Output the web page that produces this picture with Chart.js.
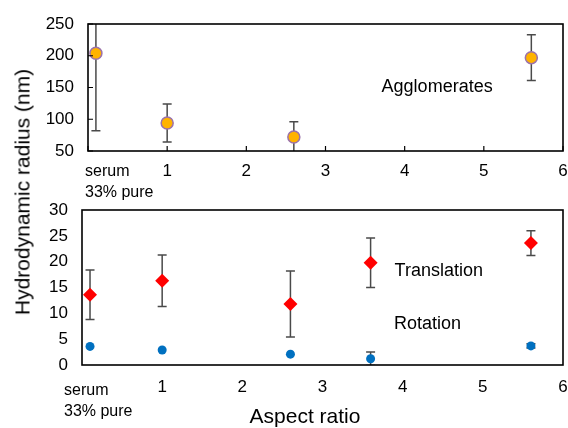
<!DOCTYPE html>
<html>
<head>
<meta charset="utf-8">
<script src="https://cdn.jsdelivr.net/npm/chart.js@4.4.1/dist/chart.umd.min.js"></script>
<style>
  html, body { margin: 0; padding: 0; background: #fff; }
  #wrap { position: relative; width: 568px; height: 428px; overflow: hidden; font-family: 'Liberation Sans', Arial, sans-serif; color: #000; }
  canvas { position: absolute; left: 0; }
  .axis-title { position: absolute; font-size: 21px; white-space: nowrap; line-height: 1; }
</style>
</head>
<body>
<div id="wrap">
  <canvas id="topChart" width="568" height="200" style="top:0"></canvas>
  <canvas id="bottomChart" width="568" height="238" style="top:190px"></canvas>
  <div class="axis-title" style="left:22px; top:192px; transform: translate(-50%, -50%) rotate(-90deg);">Hydrodynamic radius (nm)</div>
  <div class="axis-title" style="left:305px; top:415px; transform: translate(-50%, -50%);">Aspect ratio</div>
</div>
<script>
// aspect ratio positions (0.1 = serum 33% pure)
const aggX = [0.1, 1, 2.6, 5.6];
const aggValues = [204, 94, 72, 197];
const aggErr = [122, 30, 24, 36];

const diffX = [0.1, 1, 2.6, 3.6, 5.6];
const translation = [13.6, 16.3, 11.8, 19.8, 23.6];
const translationErr = [4.8, 5.0, 6.4, 4.8, 2.4];
const rotation = [3.6, 2.9, 2.1, 1.2, 3.7];
const rotationErr = [0, 0, 0, 1.3, 0.4];

const xTicks = [0, 1, 2, 3, 4, 5, 6];
const serumLabel = ['serum', '33% pure'];

const FONT = "'Liberation Sans', Arial, sans-serif";
const tickFont = { family: FONT, size: 17 };

const toPoints = (xs, ys) => xs.map((x, i) => ({ x: x, y: ys[i] }));

// error bars, frame, inward ticks, serum label and annotations
const panelPlugin = {
    id: 'panel',
    beforeDatasetsDraw(chart) {
        const { ctx, chartArea: a } = chart;
        ctx.save();
        ctx.beginPath();
        ctx.rect(a.left, a.top, a.right - a.left, a.bottom - a.top);
        ctx.clip();
        ctx.strokeStyle = '#4a4a4a';
        ctx.lineWidth = 1.5;
        chart.data.datasets.forEach((ds, di) => {
            if (!ds.errors) return;
            const y = chart.scales.y;
            chart.getDatasetMeta(di).data.forEach((pt, i) => {
                const err = ds.errors[i];
                if (!err) return;
                const v = ds.data[i].y;
                const hi = y.getPixelForValue(v + err), lo = y.getPixelForValue(v - err);
                ctx.beginPath();
                ctx.moveTo(pt.x, hi); ctx.lineTo(pt.x, lo);
                ctx.moveTo(pt.x - 4.5, hi); ctx.lineTo(pt.x + 4.5, hi);
                ctx.moveTo(pt.x - 4.5, lo); ctx.lineTo(pt.x + 4.5, lo);
                ctx.stroke();
            });
        });
        ctx.restore();
    },
    afterDraw(chart, args, opts) {
        const { ctx, chartArea: a, scales: { x, y } } = chart;
        ctx.save();
        ctx.strokeStyle = '#000';
        ctx.lineWidth = 1.6;
        ctx.strokeRect(a.left, a.top, a.right - a.left, a.bottom - a.top);
        if (opts.innerTicks) {
            ctx.lineWidth = 1.2;
            ctx.beginPath();
            x.ticks.forEach(t => {
                const px = x.getPixelForValue(t.value);
                ctx.moveTo(px, a.bottom); ctx.lineTo(px, a.bottom - 5);
            });
            y.ticks.forEach(t => {
                const py = y.getPixelForValue(t.value);
                ctx.moveTo(a.left, py); ctx.lineTo(a.left + 5, py);
            });
            ctx.stroke();
        }
        ctx.fillStyle = '#000';
        ctx.font = '16px ' + FONT;
        ctx.textAlign = 'left';
        ctx.textBaseline = 'middle';
        const sx = x.getPixelForValue(0) + opts.serumDx;
        serumLabel.forEach((s, i) => ctx.fillText(s, sx, a.bottom + opts.serumDy + i * 20.5));
        ctx.font = '18px ' + FONT;
        ctx.textAlign = 'center';
        (opts.notes || []).forEach(n => {
            ctx.fillText(n.text, x.getPixelForValue(n.x), y.getPixelForValue(n.y));
        });
        ctx.restore();
    }
};

function xScale(pad, height) {
    return {
        type: 'linear', min: 0, max: 6,
        grid: { display: false, drawTicks: false },
        border: { display: false },
        afterBuildTicks: s => { s.ticks = xTicks.map(v => ({ value: v })); },
        ticks: { padding: pad, color: '#000', font: tickFont, maxRotation: 0, autoSkip: false,
                 callback: v => v === 0 ? '' : v },
        afterFit: s => { s.height = height; s.paddingLeft = 0; s.paddingRight = 0; }
    };
}

function yScale(min, max, step, width) {
    return {
        min: min, max: max,
        grid: { display: false, drawTicks: false },
        border: { display: false },
        ticks: { stepSize: step, padding: 14, color: '#000', font: tickFont },
        afterFit: s => { s.width = width; s.paddingTop = 0; s.paddingBottom = 0; }
    };
}

new Chart(document.getElementById('topChart'), {
    type: 'scatter',
    data: {
        datasets: [{
            label: 'Agglomerates',
            data: toPoints(aggX, aggValues),
            errors: aggErr,
            pointStyle: 'circle', pointRadius: 6,
            backgroundColor: '#FFB300', borderColor: '#9B72AA', borderWidth: 1.5
        }]
    },
    options: {
        responsive: false, animation: false,
        layout: { autoPadding: false, padding: { left: 40, top: 24, right: 5, bottom: 0 } },
        plugins: {
            legend: { display: false }, tooltip: { enabled: false },
            panel: { innerTicks: true, serumDx: -3, serumDy: 21,
                     notes: [{ text: 'Agglomerates', x: 4.41, y: 151 }] }
        },
        scales: { x: xScale(10, 49), y: yScale(50, 250, 50, 48) }
    },
    plugins: [panelPlugin]
});

new Chart(document.getElementById('bottomChart'), {
    type: 'scatter',
    data: {
        datasets: [{
            label: 'Translation',
            data: toPoints(diffX, translation),
            errors: translationErr,
            pointStyle: 'rectRot', pointRadius: 7,
            backgroundColor: '#FF0000', borderColor: '#FF0000', borderWidth: 0
        }, {
            label: 'Rotation',
            data: toPoints(diffX, rotation),
            errors: rotationErr,
            pointStyle: 'circle', pointRadius: 4.5,
            backgroundColor: '#0070C0', borderColor: '#0070C0', borderWidth: 0
        }]
    },
    options: {
        responsive: false, animation: false,
        layout: { autoPadding: false, padding: { left: 40, top: 20, right: 5, bottom: 0 } },
        plugins: {
            legend: { display: false }, tooltip: { enabled: false },
            panel: { innerTicks: false, serumDx: -18, serumDy: 26,
                     notes: [{ text: 'Translation', x: 4.45, y: 18.2 },
                             { text: 'Rotation', x: 4.31, y: 7.9 }] }
        },
        scales: { x: xScale(12, 63), y: yScale(0, 30, 5, 42) }
    },
    plugins: [panelPlugin]
});
</script>
</body>
</html>
